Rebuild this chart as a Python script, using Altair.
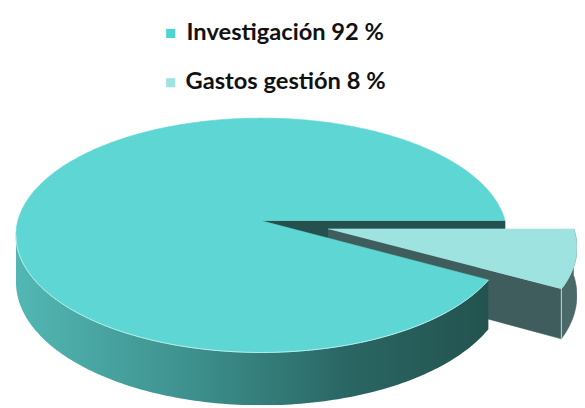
import numpy as np
import pandas as pd
import altair as alt

# ---- data ----
categories = ["Investigación", "Gastos gestión"]
shares = [92, 8]
legend_labels = ["Investigación 92 %", "Gastos gestión 8 %"]
explode = [0.0, 0.28]
top_colors = ["#5dd6d4", "#9fe3e1"]

# ---- 3D projection parameters (plot coords, pixels) ----
W, H = 577, 400
CX, CY = 257, 213      # centre of pie top
A, B = 247, 117        # radii
P = 0.1234             # perspective strength
T = 47                 # thickness

def proj(u, v, z):
    s = 1.0 / (1.0 - P * v)
    return CX + A * u * s, CY + B * v * s + T * z * s

# slice angles: listed in reverse starting at 0 deg (east), clockwise on screen
total = float(sum(shares))
angles = {}
start = 0.0
for cat, sh, ex in reversed(list(zip(categories, shares, explode))):
    end = start + 360.0 * sh / total
    angles[cat] = (start, end, ex)
    start = end

def offset(cat):
    a0, a1, ex = angles[cat]
    mid = np.radians((a0 + a1) / 2)
    return ex * np.cos(mid), ex * np.sin(mid)

def arc(cat, t0, t1, z, n=None):
    du, dv = offset(cat)
    if n is None:
        n = max(2, int(abs(t1 - t0)) + 1)
    th = np.radians(np.linspace(t0, t1, n))
    return [proj(du + np.cos(t), dv + np.sin(t), z) for t in th]

def centre(cat, z):
    du, dv = offset(cat)
    return proj(du, dv, z)

def frame(pts, name):
    return pd.DataFrame({"face": name, "o": range(len(pts)),
                         "x": [p[0] for p in pts], "y": [p[1] for p in pts]})

inv0, inv1, _ = angles["Investigación"]
g0, g1, _ = angles["Gastos gestión"]

faces = []
# main slice: radial face at 360 deg (visible through the gap)
pts = [centre("Investigación", 0), arc("Investigación", inv1, inv1, 0, 2)[0],
       arc("Investigación", inv1, inv1, 1, 2)[0], centre("Investigación", 1)]
faces.append((frame(pts, "main_cut"), "#24504e"))
# exploded slice outer wall
pts = arc("Gastos gestión", g0, g1, 0) + arc("Gastos gestión", g1, g0, 1)
faces.append((frame(pts, "exp_wall"), "#4a6968"))
# exploded slice front radial face
pts = [centre("Gastos gestión", 0), arc("Gastos gestión", g1, g1, 0, 2)[0],
       arc("Gastos gestión", g1, g1, 1, 2)[0], centre("Gastos gestión", 1)]
faces.append((frame(pts, "exp_cut"), "#3f5d5c"))
# exploded top
pts = [centre("Gastos gestión", 0)] + arc("Gastos gestión", g0, g1, 0)
faces.append((frame(pts, "exp_top"), top_colors[1]))

main_wall = frame(arc("Investigación", inv0, 173, 0) + arc("Investigación", 173, inv0, 1), "main_wall")
main_top = frame([centre("Investigación", 0)] + arc("Investigación", inv0, inv1, 0), "main_top")
rim = frame(arc("Investigación", inv0, 173, 0), "rim")
corner = frame([arc("Gastos gestión", g1, g1, 0, 2)[0], arc("Gastos gestión", g1, g1, 1, 2)[0]], "corner")

xs = alt.Scale(domain=[0, W], nice=False, zero=False)
ys = alt.Scale(domain=[0, H], nice=False, zero=False, reverse=True)

def enc(ch):
    return ch.encode(x=alt.X("x:Q", scale=xs, axis=None),
                     y=alt.Y("y:Q", scale=ys, axis=None), order="o:Q")

def poly(df, fill):
    return enc(alt.Chart(df).mark_line(fill=fill, stroke=fill, strokeWidth=0.6, clip=True))

layers = [poly(df, c) for df, c in faces]
layers.append(enc(alt.Chart(corner).mark_line(stroke="#b8e6e4", strokeWidth=1, clip=True)))

wall_grad = alt.Gradient(
    gradient="linear", x1=0, x2=1, y1=0, y2=0,
    stops=[alt.GradientStop(color="#52b7b3", offset=0),
           alt.GradientStop(color="#3c8d8a", offset=0.4),
           alt.GradientStop(color="#2a6663", offset=0.7),
           alt.GradientStop(color="#23534f", offset=1)])
layers.append(enc(alt.Chart(main_wall).mark_line(fill=wall_grad, strokeWidth=0, clip=True)))
layers.append(poly(main_top, top_colors[0]))
layers.append(enc(alt.Chart(rim).mark_line(stroke="#b8eeec", strokeWidth=1, clip=True)))

# ---- legend ----
leg = pd.DataFrame({"cat": categories, "label": legend_labels,
                    "sx": [165, 165], "sy": [23, 73], "tx": [181, 180], "ty": [30, 79]})
cscale = alt.Scale(domain=categories, range=["#4fd3d0", "#a0e3e1"])
squares = alt.Chart(leg).mark_square(size=85, opacity=1).encode(
    x=alt.X("sx:Q", scale=xs, axis=None), y=alt.Y("sy:Q", scale=ys, axis=None),
    color=alt.Color("cat:N", scale=cscale, legend=None))
texts = alt.Chart(leg).mark_text(align="left", baseline="alphabetic", font="Lato",
                                 fontSize=24, fontWeight="bold", color="#111111").encode(
    x=alt.X("tx:Q", scale=xs, axis=None), y=alt.Y("ty:Q", scale=ys, axis=None),
    text="label:N")
layers += [squares, texts]

chart = alt.layer(*layers).properties(
    width=W, height=H, padding=0, autosize="none", background="white"
).configure_view(stroke=None)

chart.save("out.html", embed_options={"renderer": "svg", "actions": False})
